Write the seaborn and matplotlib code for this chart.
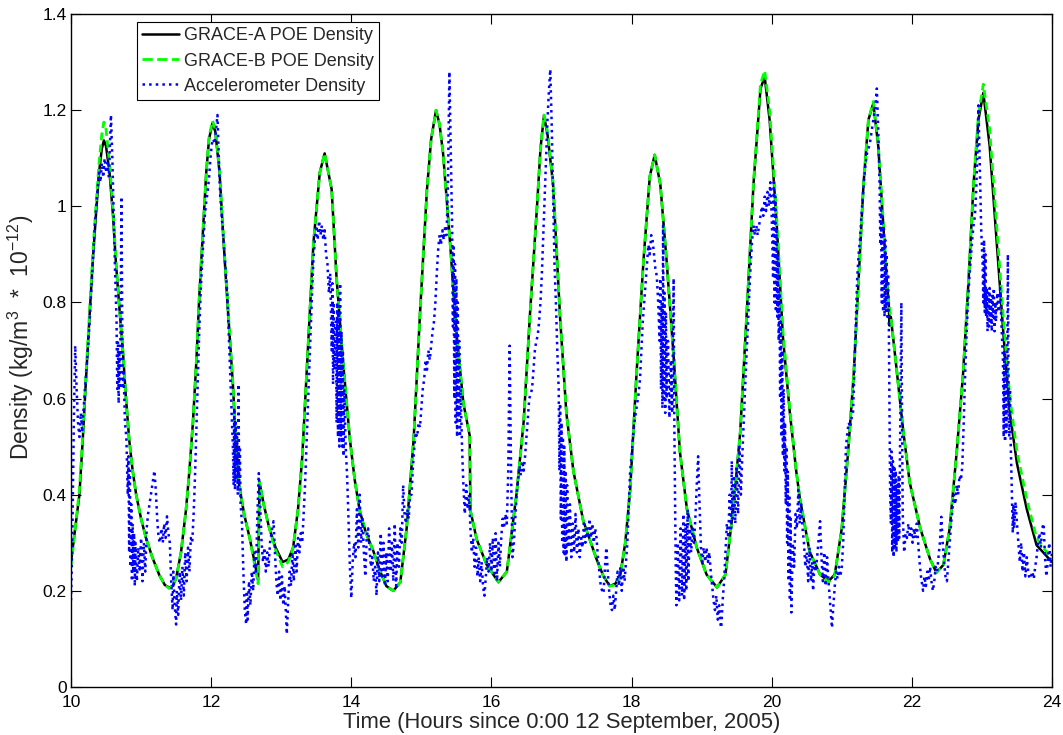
import pandas as pd
import matplotlib
matplotlib.use("Agg")
import matplotlib.pyplot as plt
import seaborn as sns

# POE derived densities (hours since 0:00 12 Sep 2005, kg/m^3 * 1e-12)
poe_time = [
    10.00, 10.06, 10.12, 10.17, 10.21, 10.26, 10.31, 10.36, 10.40, 10.44, 10.47, 10.50, 10.55, 10.60, 10.64,
    10.69, 10.74, 10.78, 10.83, 10.88, 10.93, 11.00, 11.07, 11.16, 11.26, 11.34, 11.40, 11.45, 11.50, 11.57,
    11.64, 11.69, 11.74, 11.79, 11.83, 11.88, 11.93, 11.97, 12.02, 12.06, 12.12, 12.16, 12.21, 12.26, 12.31,
    12.35, 12.40, 12.47, 12.55, 12.62, 12.67, 12.69, 12.75, 12.83, 12.92, 13.02, 13.10, 13.17, 13.24, 13.30,
    13.38, 13.46, 13.55,
    13.62, 13.72, 13.79, 13.89, 13.98, 14.05, 14.12, 14.21, 14.31, 14.40, 14.50, 14.60, 14.70, 14.79, 14.89,
    14.98, 15.08, 15.14, 15.21, 15.26, 15.31, 15.41, 15.50, 15.60, 15.69, 15.70, 15.79, 15.93, 16.10, 16.22,
    16.36, 16.46, 16.55, 16.65, 16.70,
    16.75, 16.80, 16.88, 16.98, 17.07, 17.17, 17.31, 17.50, 17.60, 17.69, 17.77, 17.84, 17.91, 17.98, 18.07,
    18.17, 18.26, 18.33, 18.41, 18.50, 18.60, 18.69, 18.79, 18.93, 19.07, 19.22, 19.34, 19.45, 19.55, 19.64,
    19.74, 19.84,
    19.90, 19.97, 20.07, 20.16, 20.26, 20.35, 20.40, 20.54, 20.69, 20.81, 20.90, 21.00, 21.09, 21.17, 21.24,
    21.31, 21.38, 21.45, 21.52, 21.59, 21.64, 21.67, 21.68, 21.70, 21.78, 21.88, 21.97, 22.12, 22.26, 22.35,
    22.45, 22.54, 22.64, 22.73, 22.81, 22.88, 22.95,
    23.02, 23.11, 23.21, 23.31, 23.40, 23.50, 23.64, 23.78, 24.00,
]
grace_a = [
    0.26, 0.33, 0.40, 0.52, 0.63, 0.76, 0.885, 0.99, 1.07, 1.12, 1.137, 1.125, 1.07, 0.98, 0.885,
    0.79, 0.70, 0.61, 0.515, 0.45, 0.40, 0.35, 0.31, 0.27, 0.233, 0.212, 0.207, 0.21, 0.226, 0.28,
    0.367, 0.45, 0.55, 0.68, 0.81, 0.94, 1.07, 1.14, 1.173, 1.155, 1.07, 0.97, 0.85, 0.74, 0.63,
    0.52, 0.42, 0.36, 0.31, 0.26, 0.222, 0.426, 0.38, 0.33, 0.29, 0.26, 0.265, 0.29, 0.37, 0.478,
    0.70, 0.924, 1.07,
    1.11, 1.035, 0.85, 0.664, 0.515, 0.43, 0.367, 0.32, 0.285, 0.245, 0.21, 0.20, 0.218, 0.33, 0.515,
    0.775, 1.035, 1.14, 1.20, 1.17, 1.11, 0.924, 0.738, 0.59, 0.523, 0.367, 0.307, 0.255, 0.218, 0.24,
    0.404, 0.552, 0.775, 0.998, 1.12,
    1.188, 1.15, 1.046, 0.768, 0.569, 0.449, 0.346, 0.266, 0.23, 0.21, 0.215, 0.234, 0.30, 0.41, 0.65,
    0.887, 1.062, 1.107, 1.046, 0.887, 0.688, 0.489, 0.37, 0.29, 0.234, 0.207, 0.234, 0.37, 0.529, 0.768,
    1.046, 1.245,
    1.269, 1.18, 0.967, 0.728, 0.569, 0.449, 0.394, 0.282, 0.234, 0.22, 0.234, 0.33, 0.489, 0.65, 0.848,
    1.046, 1.18, 1.214, 1.126, 0.967, 0.848, 0.80, 0.752, 0.77, 0.664, 0.529, 0.425, 0.33, 0.266, 0.238,
    0.254, 0.33, 0.489, 0.65, 0.848, 1.046, 1.18,
    1.236, 1.126, 0.927, 0.728, 0.569, 0.465, 0.37, 0.295, 0.26,
]
grace_b = [
    0.25, 0.33, 0.41, 0.53, 0.64, 0.77, 0.90, 1.01, 1.09, 1.15, 1.175, 1.16, 1.09, 0.99, 0.89,
    0.79, 0.70, 0.61, 0.515, 0.45, 0.40, 0.35, 0.31, 0.27, 0.233, 0.212, 0.205, 0.21, 0.226, 0.28,
    0.367, 0.45, 0.55, 0.68, 0.81, 0.94, 1.07, 1.145, 1.178, 1.16, 1.075, 0.975, 0.855, 0.745, 0.63,
    0.52, 0.42, 0.36, 0.31, 0.255, 0.215, 0.426, 0.38, 0.33, 0.285, 0.25, 0.26, 0.29, 0.37, 0.478,
    0.70, 0.924, 1.07,
    1.11, 1.035, 0.85, 0.664, 0.515, 0.43, 0.367, 0.32, 0.285, 0.245, 0.21, 0.20, 0.218, 0.33, 0.515,
    0.775, 1.035, 1.14, 1.20, 1.17, 1.11, 0.924, 0.738, 0.59, 0.523, 0.367, 0.307, 0.255, 0.218, 0.24,
    0.404, 0.552, 0.775, 0.998, 1.12,
    1.19, 1.155, 1.05, 0.77, 0.569, 0.449, 0.346, 0.266, 0.23, 0.21, 0.212, 0.232, 0.30, 0.41, 0.65,
    0.887, 1.062, 1.107, 1.046, 0.887, 0.688, 0.489, 0.37, 0.29, 0.234, 0.207, 0.234, 0.37, 0.529, 0.768,
    1.05, 1.255,
    1.282, 1.20, 0.98, 0.74, 0.575, 0.45, 0.395, 0.282, 0.234, 0.218, 0.232, 0.33, 0.489, 0.65, 0.848,
    1.046, 1.18, 1.218, 1.13, 0.97, 0.85, 0.80, 0.79, 0.77, 0.664, 0.529, 0.425, 0.33, 0.266, 0.238,
    0.254, 0.33, 0.489, 0.65, 0.848, 1.046, 1.19,
    1.254, 1.16, 0.96, 0.76, 0.60, 0.49, 0.39, 0.31, 0.265,
]

# accelerometer density, (hour, density) samples
accel_samples = [
    (10.00, 0.18), (10.02, 0.32), (10.04, 0.55), (10.06, 0.71), (10.08, 0.62), (10.10, 0.55), (10.12, 0.52),
    (10.14, 0.57), (10.16, 0.53), (10.18, 0.58), (10.20, 0.62), (10.22, 0.66), (10.25, 0.72), (10.28, 0.80),
    (10.31, 0.88), (10.34, 0.96), (10.37, 1.02), (10.40, 1.07), (10.42, 1.05), (10.44, 1.09), (10.46, 1.06),
    (10.48, 1.10), (10.50, 1.07), (10.52, 1.09), (10.54, 1.06), (10.57, 1.19), (10.59, 1.10), (10.61, 0.98),
    (10.63, 0.86), (10.65, 0.76), (10.66, 0.62), (10.67, 0.72), (10.68, 0.59), (10.69, 0.70), (10.70, 0.62),
    (10.72, 1.02), (10.73, 0.78), (10.74, 0.62), (10.75, 0.66), (10.77, 0.55), (10.79, 0.52), (10.81, 0.40),
    (10.82, 0.48), (10.83, 0.28), (10.84, 0.45), (10.85, 0.25), (10.86, 0.38), (10.87, 0.22), (10.88, 0.34),
    (10.89, 0.24), (10.90, 0.32), (10.91, 0.21), (10.92, 0.30), (10.94, 0.22), (10.96, 0.29), (10.98, 0.24),
    (11.00, 0.31), (11.02, 0.22), (11.04, 0.30), (11.06, 0.24), (11.08, 0.33), (11.10, 0.36), (11.12, 0.38),
    (11.14, 0.40), (11.16, 0.42), (11.19, 0.45), (11.21, 0.41), (11.23, 0.35), (11.25, 0.31), (11.27, 0.30),
    (11.29, 0.33), (11.31, 0.30), (11.33, 0.34), (11.35, 0.31), (11.37, 0.355), (11.39, 0.32), (11.41, 0.30),
    (11.43, 0.22), (11.45, 0.16), (11.46, 0.24), (11.48, 0.17), (11.50, 0.13), (11.51, 0.20), (11.53, 0.15),
    (11.55, 0.24), (11.57, 0.18), (11.59, 0.25), (11.61, 0.19), (11.63, 0.28), (11.65, 0.22), (11.67, 0.29),
    (11.69, 0.24), (11.71, 0.31), (11.73, 0.30), (11.75, 0.36),
    (11.77, 0.44), (11.79, 0.54), (11.81, 0.64), (11.83, 0.74), (11.85, 0.82), (11.87, 0.88), (11.89, 0.93),
    (11.91, 0.98), (11.93, 1.01), (11.95, 1.03), (11.97, 1.06), (11.99, 1.10), (12.01, 1.13), (12.03, 1.14),
    (12.05, 1.13), (12.07, 1.16), (12.09, 1.19), (12.11, 1.10), (12.13, 1.02), (12.15, 0.98), (12.17, 0.94),
    (12.19, 0.90), (12.21, 0.86), (12.23, 0.82), (12.25, 0.74), (12.27, 0.66), (12.29, 0.58), (12.31, 0.50),
    (12.32, 0.42), (12.33, 0.58), (12.34, 0.41), (12.35, 0.55), (12.36, 0.43), (12.37, 0.52), (12.38, 0.40),
    (12.39, 0.63), (12.40, 0.42), (12.41, 0.50), (12.42, 0.38), (12.44, 0.34), (12.46, 0.24), (12.48, 0.16),
    (12.50, 0.13), (12.51, 0.20), (12.52, 0.14), (12.54, 0.22), (12.56, 0.17), (12.58, 0.24), (12.60, 0.20),
    (12.62, 0.28), (12.64, 0.24), (12.66, 0.36), (12.68, 0.445), (12.70, 0.38), (12.72, 0.30), (12.74, 0.26),
    (12.76, 0.29), (12.78, 0.24), (12.80, 0.28), (12.82, 0.25), (12.84, 0.30), (12.86, 0.32), (12.89, 0.345),
    (12.91, 0.28), (12.93, 0.22), (12.95, 0.19), (12.97, 0.24), (12.99, 0.18), (13.01, 0.23), (13.03, 0.17),
    (13.05, 0.21), (13.07, 0.14), (13.08, 0.11), (13.10, 0.18), (13.12, 0.24), (13.14, 0.21), (13.16, 0.28),
    (13.18, 0.22), (13.20, 0.30), (13.22, 0.24), (13.24, 0.31), (13.26, 0.28), (13.28, 0.32), (13.30, 0.30),
    (13.32, 0.36), (13.34, 0.42), (13.36, 0.50), (13.38, 0.58), (13.40, 0.66), (13.42, 0.74), (13.44, 0.82),
    (13.46, 0.89), (13.48, 0.93), (13.50, 0.96), (13.52, 0.93), (13.54, 0.97), (13.56, 0.94), (13.58, 0.96),
    (13.60, 0.93), (13.62, 0.95),
    (13.64, 0.90), (13.66, 0.88), (13.68, 0.82), (13.70, 0.86), (13.72, 0.70), (13.73, 0.84), (13.74, 0.63),
    (13.75, 0.80), (13.76, 0.66), (13.78, 0.76), (13.79, 0.55), (13.80, 0.80), (13.81, 0.52), (13.82, 0.78),
    (13.83, 0.50), (13.84, 0.84), (13.85, 0.52), (13.86, 0.74), (13.87, 0.50), (13.88, 0.70), (13.89, 0.48),
    (13.90, 0.62), (13.92, 0.50), (13.94, 0.44), (13.96, 0.35), (13.98, 0.25), (14.00, 0.185), (14.02, 0.26),
    (14.04, 0.30), (14.06, 0.27), (14.08, 0.37), (14.10, 0.29), (14.12, 0.40), (14.14, 0.30), (14.16, 0.35),
    (14.18, 0.28), (14.20, 0.23), (14.22, 0.31), (14.24, 0.33), (14.26, 0.29), (14.28, 0.25), (14.30, 0.27),
    (14.32, 0.22), (14.34, 0.25), (14.36, 0.19), (14.38, 0.28), (14.40, 0.22), (14.42, 0.32), (14.44, 0.23),
    (14.46, 0.30), (14.48, 0.21), (14.50, 0.28), (14.52, 0.22), (14.54, 0.33), (14.56, 0.24), (14.58, 0.30),
    (14.60, 0.22), (14.62, 0.34), (14.64, 0.21), (14.66, 0.30), (14.68, 0.25), (14.70, 0.33), (14.72, 0.30),
    (14.74, 0.42), (14.76, 0.36), (14.78, 0.34), (14.80, 0.37), (14.82, 0.35), (14.84, 0.40),
    (14.86, 0.40), (14.88, 0.46), (14.90, 0.50), (14.92, 0.53), (14.94, 0.52), (14.96, 0.55), (14.98, 0.54),
    (15.00, 0.58), (15.02, 0.62), (15.04, 0.64), (15.06, 0.68), (15.08, 0.66), (15.10, 0.70), (15.12, 0.68),
    (15.14, 0.71), (15.16, 0.74), (15.18, 0.76), (15.20, 0.80), (15.22, 0.86), (15.24, 0.91), (15.26, 0.94),
    (15.28, 0.92), (15.30, 0.95), (15.32, 0.93), (15.34, 0.96), (15.36, 0.94), (15.38, 1.05), (15.40, 1.28),
    (15.42, 1.12), (15.44, 0.95), (15.45, 0.75), (15.46, 0.92), (15.47, 0.60), (15.48, 0.88), (15.49, 0.55),
    (15.50, 0.85), (15.51, 0.52), (15.52, 0.80), (15.53, 0.56), (15.54, 0.72), (15.55, 0.52), (15.56, 0.62),
    (15.58, 0.50), (15.60, 0.42), (15.62, 0.36), (15.64, 0.42), (15.66, 0.37), (15.68, 0.40), (15.70, 0.33),
    (15.72, 0.28), (15.74, 0.31), (15.76, 0.25), (15.78, 0.29), (15.80, 0.23), (15.82, 0.27), (15.84, 0.22),
    (15.86, 0.26), (15.88, 0.21), (15.90, 0.19), (15.92, 0.23), (15.94, 0.27), (15.96, 0.24), (15.98, 0.30),
    (16.00, 0.24), (16.02, 0.31), (16.04, 0.23), (16.06, 0.32), (16.08, 0.22), (16.10, 0.30), (16.12, 0.25),
    (16.14, 0.31), (16.16, 0.35), (16.18, 0.33), (16.20, 0.36), (16.22, 0.34), (16.24, 0.45), (16.26, 0.71),
    (16.28, 0.45), (16.30, 0.27), (16.32, 0.30), (16.34, 0.35), (16.36, 0.40), (16.38, 0.43), (16.40, 0.46),
    (16.42, 0.44), (16.44, 0.47), (16.46, 0.45), (16.48, 0.48), (16.50, 0.52), (16.52, 0.56), (16.54, 0.60),
    (16.56, 0.61), (16.58, 0.62), (16.60, 0.66), (16.62, 0.70), (16.64, 0.72), (16.66, 0.73), (16.68, 0.76),
    (16.70, 0.80), (16.72, 0.86), (16.74, 0.94), (16.76, 1.02), (16.78, 1.10), (16.80, 1.18), (16.82, 1.24),
    (16.84, 1.285),
    (16.86, 1.17), (16.88, 1.02), (16.90, 0.88), (16.92, 0.80), (16.94, 0.70), (16.96, 0.62), (16.97, 0.45),
    (16.98, 0.59), (16.99, 0.35), (17.00, 0.55), (17.01, 0.30), (17.02, 0.52), (17.03, 0.28), (17.04, 0.50),
    (17.05, 0.27), (17.06, 0.45), (17.07, 0.26), (17.08, 0.42), (17.10, 0.29), (17.12, 0.38), (17.14, 0.27),
    (17.16, 0.34), (17.18, 0.28), (17.20, 0.36), (17.22, 0.28), (17.24, 0.33), (17.26, 0.27), (17.28, 0.31),
    (17.30, 0.29), (17.32, 0.34), (17.34, 0.30), (17.36, 0.33), (17.38, 0.31), (17.40, 0.35), (17.42, 0.31),
    (17.44, 0.34), (17.46, 0.30), (17.48, 0.33), (17.50, 0.31), (17.52, 0.27), (17.54, 0.24), (17.56, 0.21),
    (17.58, 0.20), (17.60, 0.195), (17.62, 0.25), (17.64, 0.29), (17.66, 0.24), (17.68, 0.20), (17.70, 0.17),
    (17.72, 0.16), (17.74, 0.19), (17.76, 0.16), (17.78, 0.20), (17.80, 0.24), (17.82, 0.21), (17.84, 0.25),
    (17.86, 0.20), (17.88, 0.25), (17.90, 0.22), (17.92, 0.26), (17.94, 0.30), (17.96, 0.38), (17.98, 0.45),
    (18.00, 0.48), (18.02, 0.52), (18.04, 0.55), (18.06, 0.57), (18.08, 0.59), (18.10, 0.61), (18.12, 0.64),
    (18.14, 0.70), (18.16, 0.76), (18.18, 0.80), (18.20, 0.84), (18.22, 0.88), (18.24, 0.92), (18.26, 0.90),
    (18.28, 0.94), (18.30, 0.93), (18.32, 0.90), (18.34, 0.87), (18.36, 0.855), (18.38, 0.80), (18.40, 0.72),
    (18.41, 0.85), (18.42, 0.62), (18.43, 0.80), (18.44, 0.58), (18.45, 0.96), (18.46, 0.60), (18.47, 0.82),
    (18.48, 0.57), (18.49, 0.78), (18.50, 0.60), (18.52, 0.72), (18.54, 0.56), (18.56, 0.68), (18.58, 0.57),
    (18.60, 0.85), (18.61, 0.55), (18.62, 0.40), (18.63, 0.25), (18.64, 0.17), (18.66, 0.30), (18.68, 0.18),
    (18.70, 0.33), (18.72, 0.19), (18.74, 0.36), (18.75, 0.18), (18.77, 0.34), (18.78, 0.20), (18.80, 0.37),
    (18.81, 0.22), (18.83, 0.33), (18.85, 0.28), (18.87, 0.33), (18.89, 0.30), (18.91, 0.35), (18.93, 0.42),
    (18.95, 0.48), (18.97, 0.38), (18.99, 0.29), (19.01, 0.26), (19.03, 0.29), (19.05, 0.26), (19.07, 0.29),
    (19.09, 0.26), (19.11, 0.28), (19.13, 0.24), (19.15, 0.21), (19.17, 0.18), (19.19, 0.16), (19.21, 0.19),
    (19.23, 0.14), (19.25, 0.17), (19.27, 0.13), (19.28, 0.123), (19.30, 0.18), (19.32, 0.22), (19.34, 0.28),
    (19.36, 0.34), (19.38, 0.31), (19.40, 0.40), (19.42, 0.33), (19.43, 0.47), (19.44, 0.35), (19.46, 0.44),
    (19.48, 0.34), (19.50, 0.46), (19.52, 0.36), (19.54, 0.50), (19.56, 0.40), (19.58, 0.48), (19.60, 0.55),
    (19.62, 0.62), (19.64, 0.69), (19.66, 0.75), (19.68, 0.82), (19.70, 0.88), (19.72, 0.93), (19.74, 0.96),
    (19.76, 0.94), (19.78, 0.96), (19.80, 0.94), (19.82, 0.96), (19.84, 0.98), (19.86, 1.00), (19.88, 0.98),
    (19.90, 1.02), (19.92, 0.99), (19.94, 1.03), (19.96, 1.00), (19.98, 1.05), (20.00, 0.98), (20.02, 0.85),
    (20.03, 1.05), (20.04, 0.80), (20.05, 1.02), (20.06, 0.78), (20.07, 0.95), (20.08, 0.77), (20.09, 0.90),
    (20.10, 0.72), (20.11, 0.82), (20.12, 0.60), (20.13, 0.76), (20.14, 0.52), (20.15, 0.70), (20.16, 0.48),
    (20.17, 0.62), (20.18, 0.45), (20.19, 0.55), (20.20, 0.38), (20.21, 0.50), (20.22, 0.30), (20.23, 0.45),
    (20.24, 0.22), (20.25, 0.40), (20.26, 0.18), (20.27, 0.35),
    (20.28, 0.155), (20.30, 0.30), (20.32, 0.25), (20.34, 0.36), (20.36, 0.33), (20.38, 0.41), (20.40, 0.34),
    (20.42, 0.38), (20.44, 0.33), (20.46, 0.30), (20.48, 0.25), (20.50, 0.28), (20.52, 0.22), (20.54, 0.29),
    (20.56, 0.22), (20.58, 0.26), (20.59, 0.20), (20.61, 0.26), (20.63, 0.24), (20.66, 0.29), (20.69, 0.345),
    (20.71, 0.27), (20.73, 0.22), (20.75, 0.28), (20.77, 0.21), (20.79, 0.27), (20.81, 0.22), (20.83, 0.18),
    (20.85, 0.14), (20.86, 0.123), (20.88, 0.17), (20.90, 0.21), (20.92, 0.24), (20.94, 0.225), (20.96, 0.25),
    (20.98, 0.23), (21.00, 0.25), (21.02, 0.30), (21.04, 0.40), (21.06, 0.50), (21.08, 0.53), (21.10, 0.55),
    (21.12, 0.54), (21.14, 0.56), (21.16, 0.57), (21.18, 0.66), (21.20, 0.76), (21.22, 0.85), (21.24, 0.90),
    (21.26, 0.93), (21.28, 0.98), (21.30, 1.02), (21.32, 1.06), (21.34, 1.09), (21.36, 1.11), (21.38, 1.12),
    (21.40, 1.13), (21.42, 1.15), (21.44, 1.17), (21.46, 1.19), (21.48, 1.21), (21.50, 1.245), (21.52, 1.16),
    (21.54, 1.04), (21.55, 0.92), (21.56, 1.00), (21.57, 0.80), (21.58, 0.98), (21.59, 0.78), (21.60, 0.96),
    (21.61, 0.77), (21.62, 0.93), (21.63, 0.78), (21.64, 0.90), (21.65, 0.77), (21.66, 0.86), (21.67, 0.78),
    (21.68, 0.60), (21.69, 0.40), (21.70, 0.34), (21.71, 0.49), (21.72, 0.28), (21.73, 0.47), (21.74, 0.27),
    (21.75, 0.46), (21.76, 0.29), (21.77, 0.45), (21.78, 0.28), (21.79, 0.42), (21.80, 0.30), (21.81, 0.44),
    (21.82, 0.31), (21.83, 0.48), (21.85, 0.80), (21.86, 0.55), (21.87, 0.36), (21.89, 0.28), (21.91, 0.32),
    (21.93, 0.31), (21.95, 0.34), (21.97, 0.31), (21.99, 0.33), (22.01, 0.30), (22.03, 0.33), (22.05, 0.31),
    (22.07, 0.34), (22.09, 0.30), (22.11, 0.26), (22.13, 0.23), (22.15, 0.21), (22.16, 0.20), (22.18, 0.23),
    (22.20, 0.21), (22.22, 0.24), (22.24, 0.22), (22.26, 0.25), (22.28, 0.22), (22.30, 0.20), (22.32, 0.22),
    (22.34, 0.25), (22.36, 0.24), (22.38, 0.27), (22.40, 0.30), (22.42, 0.354), (22.44, 0.30), (22.46, 0.26),
    (22.48, 0.23), (22.50, 0.22), (22.52, 0.26), (22.54, 0.30), (22.56, 0.34), (22.58, 0.37), (22.60, 0.40),
    (22.62, 0.38), (22.64, 0.42), (22.66, 0.40), (22.68, 0.44), (22.70, 0.43), (22.72, 0.46), (22.74, 0.55),
    (22.76, 0.65), (22.78, 0.73), (22.80, 0.80), (22.82, 0.85), (22.84, 0.89), (22.86, 0.93), (22.88, 0.96),
    (22.90, 0.98), (22.92, 1.04), (22.94, 1.14), (22.95, 1.21), (22.97, 1.08), (22.99, 0.95), (23.01, 0.88),
    (23.02, 0.80), (23.03, 0.93), (23.04, 0.78), (23.05, 0.90), (23.06, 0.77), (23.07, 0.83), (23.08, 0.74),
    (23.09, 0.82), (23.10, 0.75), (23.11, 0.83), (23.12, 0.76), (23.13, 0.81), (23.14, 0.74), (23.15, 0.82),
    (23.16, 0.77), (23.17, 0.83), (23.18, 0.74), (23.19, 0.80), (23.20, 0.76), (23.22, 0.82), (23.24, 0.78),
    (23.26, 0.83), (23.28, 0.75), (23.30, 0.68), (23.31, 0.52), (23.32, 0.70), (23.33, 0.51), (23.34, 0.66),
    (23.35, 0.53), (23.36, 0.62), (23.37, 0.90), (23.38, 0.60), (23.39, 0.52), (23.40, 0.62), (23.41, 0.51),
    (23.42, 0.45), (23.43, 0.38), (23.44, 0.32), (23.45, 0.38), (23.46, 0.33), (23.48, 0.385), (23.50, 0.34),
    (23.52, 0.30), (23.54, 0.26), (23.56, 0.30), (23.58, 0.24), (23.60, 0.28), (23.62, 0.23), (23.64, 0.27),
    (23.66, 0.24), (23.68, 0.225), (23.70, 0.23), (23.72, 0.24), (23.74, 0.225), (23.76, 0.25), (23.78, 0.27),
    (23.80, 0.30), (23.82, 0.32), (23.84, 0.29), (23.86, 0.33), (23.88, 0.34), (23.90, 0.27), (23.92, 0.23),
    (23.94, 0.26), (23.96, 0.30), (23.98, 0.25), (24.00, 0.28),
]

x_ticks = [10, 12, 14, 16, 18, 20, 22, 24]
y_ticks = [0, 0.2, 0.4, 0.6, 0.8, 1.0, 1.2, 1.4]
y_tick_labels = ["0", "0.2", "0.4", "0.6", "0.8", "1", "1.2", "1.4"]

poe = pd.DataFrame({"time": poe_time, "grace_a": grace_a, "grace_b": grace_b})
accel = pd.DataFrame(accel_samples, columns=["time", "density"])

sns.set_style("ticks")
plt.rcParams["font.family"] = ["Liberation Sans", "DejaVu Sans"]
plt.rcParams["mathtext.default"] = "regular"

fig = plt.figure(figsize=(10.63, 7.35), dpi=100)
ax = fig.add_axes([71 / 1063, 1 - 687 / 735, 981 / 1063, 673 / 735])

sns.lineplot(data=poe, x="time", y="grace_a", color="black", linewidth=1.8,
             label="GRACE-A POE Density", ax=ax)
sns.lineplot(data=poe, x="time", y="grace_b", color=(0, 1, 0), linewidth=2.0,
             label="GRACE-B POE Density", ax=ax)
ax.lines[-1].set_linestyle((0, (2.8, 1.6)))
sns.lineplot(data=accel, x="time", y="density", color=(0, 0, 1), linewidth=1.8,
             label="Accelerometer Density", ax=ax)
ax.lines[-1].set_linestyle(":")

ax.set_xlim(10, 24)
ax.set_ylim(0, 1.4)
ax.set_xticks(x_ticks)
ax.set_yticks(y_ticks)
ax.set_yticklabels(y_tick_labels)
ax.tick_params(direction="in", length=7, width=0.8, top=True, right=True,
               labelsize=12.5, colors="black")
ax.tick_params(axis="x", pad=6)
ax.tick_params(axis="y", pad=3)
for side in ax.spines.values():
    side.set_visible(True)
    side.set_linewidth(1.0)
    side.set_color("black")

ax.set_xlabel("Time (Hours since 0:00 12 September, 2005)", fontsize=15.8, labelpad=1)
ax.set_ylabel("Density (kg/m$^{3}$  *  10$^{-12}$)", fontsize=16.5)
ax.yaxis.set_label_coords(-0.036, 0.52)

leg = ax.legend(loc="upper left", bbox_to_anchor=((137 - 71) / 981, 1 - 8 / 673),
                borderaxespad=0, frameon=True, fancybox=False, framealpha=1,
                edgecolor="black", fontsize=13, handlelength=2.0,
                handletextpad=0.3, labelspacing=0.45, borderpad=0.3)
leg.get_frame().set_linewidth(0.8)
# legend handles keep the line styles of the plotted series
for handle, line in zip(leg.get_lines(), ax.lines):
    handle.set_linestyle(line.get_linestyle())

fig.savefig("out.png", dpi=100)
